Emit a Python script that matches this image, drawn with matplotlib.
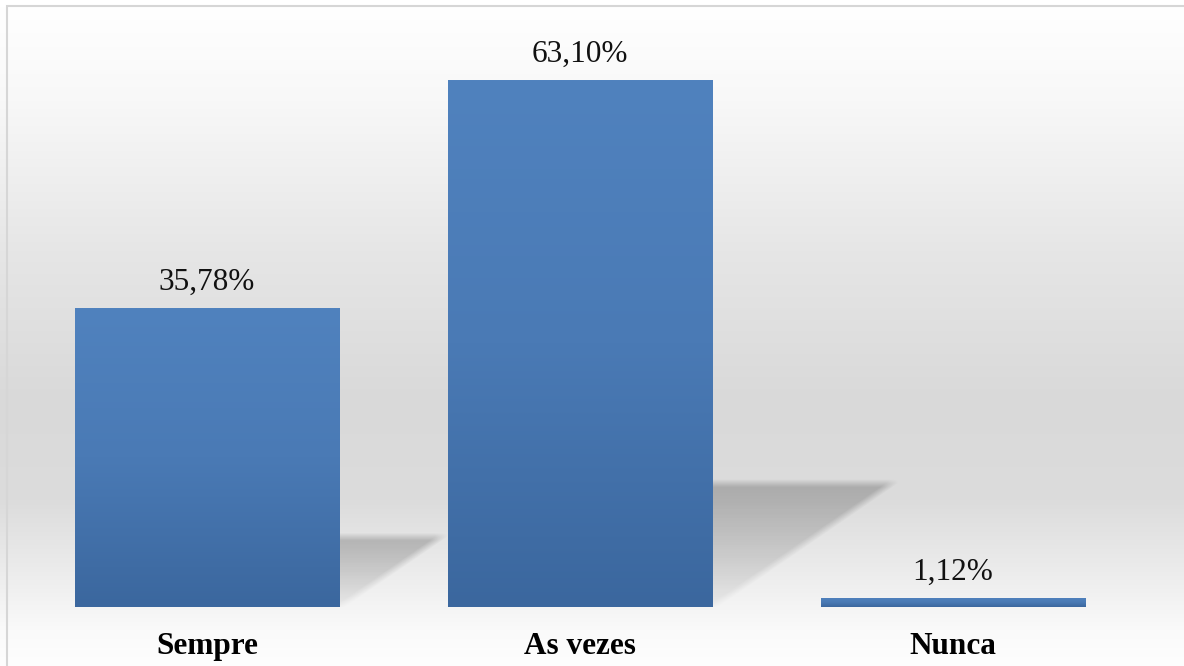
import matplotlib.pyplot as plt
import numpy as np
from matplotlib.colors import LinearSegmentedColormap
from matplotlib.patches import Rectangle

# data
categorias = ['Sempre', 'As vezes', 'Nunca']
valores = [35.78, 63.10, 1.12]
rotulos = [f"{v:.2f}%".replace('.', ',') for v in valores]

W, H = 1184, 666
fig = plt.figure(figsize=(W / 100, H / 100), dpi=100)
plt.rcParams['font.family'] = ['Liberation Serif', 'DejaVu Serif']

# background gradient (whole figure)
bg = fig.add_axes([0, 0, 1, 1], zorder=0)
bg.axis('off')
stops_y = [0, 6, 100, 250, 400, 500, 580, 630, 666]
stops_c = [255, 255, 248, 230, 217, 220, 238, 250, 254]
yy = np.arange(H)
col = np.interp(yy, stops_y, stops_c) / 255.0
bg_img = np.repeat(col[:, None, None], 3, axis=2)
bg.imshow(bg_img, extent=[0, 1, 0, 1], aspect='auto', origin='upper')
bg.set_xlim(0, 1)
bg.set_ylim(0, 1)

# chart border
fig.patches.append(Rectangle((6.5 / W, -0.1), 1.2, 1.1 - 6 / H, transform=fig.transFigure,
                             fill=False, edgecolor='#d6d6d6', linewidth=1.5, zorder=5))

# main plot area
px_per_unit = 8.35
ymax = 70
left_px, right_px, base_px = 20.5, 1139.5, 59
ax = fig.add_axes([left_px / W, base_px / H, (right_px - left_px) / W, ymax * px_per_unit / H], zorder=1)
ax.patch.set_alpha(0)

x = np.arange(len(categorias))
largura = 0.708

# soft perspective shadows behind the bars
nx, ny = int(right_px - left_px), int(ymax * px_per_unit)
X, Y = np.meshgrid(np.arange(nx) + 0.5, np.arange(ny) + 0.5)
cat_px = (right_px - left_px) / len(categorias)
alpha = np.zeros_like(X)
w = 13.0
for i, v in enumerate(valores):
    hp = 0.235 * v * px_per_unit
    if hp < 3:
        continue
    dx = 1.45 * hp
    x0 = cat_px * (i + 0.5) - largura * cat_px / 2
    x1 = cat_px * (i + 0.5) + largura * cat_px / 2
    t = np.clip(Y / hp, 0, 1)
    xs = X - dx * t
    inx = np.clip((xs - x0) / w + 0.5, 0, 1) * np.clip((x1 - xs) / w + 0.5, 0, 1)
    iny = np.clip((hp - Y) / 8 + 0.5, 0, 1)
    alpha = np.maximum(alpha, 0.22 * (0.15 + 0.85 * t ** 0.8) * inx * iny)
sombra = np.zeros((ny, nx, 4))
sombra[..., 3] = alpha
ax.imshow(sombra, extent=[-0.5, 2.5, 0, ymax], origin='lower', aspect='auto', zorder=1)

# bars with vertical gradient
cmap_barra = LinearSegmentedColormap.from_list('barra', ['#3b679e', '#4a7ab5', '#5082be'])
barras = ax.bar(x, valores, width=largura, color='none', zorder=2)
grad = np.linspace(0, 1, 256).reshape(-1, 1)
for b in barras:
    x0, y0 = b.get_x(), b.get_y()
    im = ax.imshow(grad, extent=[x0, x0 + b.get_width(), y0, y0 + b.get_height()],
                   origin='lower', aspect='auto', cmap=cmap_barra, zorder=3)
    im.set_clip_path(b)

# value labels
for xi, v, r in zip(x, valores, rotulos):
    ax.annotate(r, (xi, v), xytext=(0, 13), textcoords='offset points',
                ha='center', va='baseline', fontsize=22.5, color='#111111', zorder=4)

ax.set_xlim(-0.5, 2.5)
ax.set_ylim(0, ymax)
ax.set_xticks(x, categorias, fontsize=22.5, fontweight='bold')
ax.tick_params(axis='x', length=0, pad=18)
ax.set_yticks([])
for s in ax.spines.values():
    s.set_visible(False)

plt.savefig('out.png', dpi=100)
